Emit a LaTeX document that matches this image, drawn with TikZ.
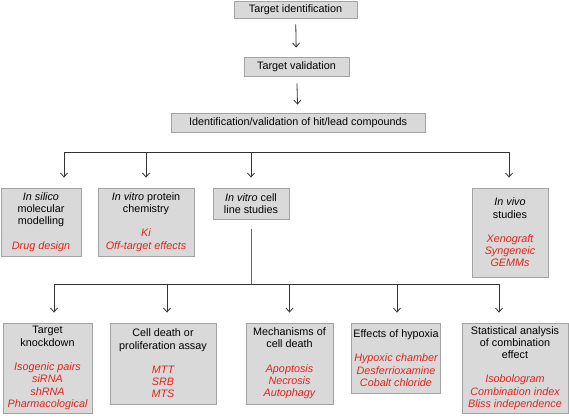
\documentclass[tikz,border=0pt]{standalone}
\usepackage{fontspec}
\setmainfont{Liberation Sans}
\usetikzlibrary{calc,arrows.meta}

\definecolor{boxgray}{HTML}{D9D9D9}
\definecolor{edgegray}{HTML}{A3A3A3}
\definecolor{hitred}{HTML}{E2231A}
\newcommand{\redit}[1]{\textcolor{hitred}{\itshape #1}}

\begin{document}
\begin{tikzpicture}[x=1pt, y=-1pt, font=\fontsize{10.8}{12.3}\selectfont,
    >={Straight Barb[length=4pt,width=7pt]},
    box/.style={rectangle, draw=edgegray, fill=boxgray, line width=0.8pt, align=center, inner sep=2pt},
    link/.style={draw=black!80, line width=0.8pt},
    down/.style={link, ->, shorten >=10pt}]

\useasboundingbox (0,0) rectangle (569,417);

% main line
\node (tid) [box, minimum width=123pt, minimum height=17pt] at (295.5,9.5) {Target identification};
\node (tval) [box, minimum width=105pt, minimum height=19pt] at (296.5,66.5) {Target validation};
\node (hits) [box, minimum width=254pt, minimum height=19pt] at (298,122.5) {Identification/validation of hit/lead compounds};

\draw[link, ->, shorten <=6pt, shorten >=9pt] (tid) -- (tval);
\draw[link, ->, shorten <=7pt, shorten >=8pt] (tval) -- (hits);

% first split
\node (silico) [box, minimum width=80pt, minimum height=68pt] at (41,222) {\textit{In silico}\\molecular\\modelling\\[12pt]\redit{Drug design}};
\node (protein) [box, minimum width=96pt, minimum height=68pt] at (146,222) {\textit{In vitro} protein\\chemistry\\[12pt]\redit{Ki}\\\redit{Off-target effects}};
\node (cellline) [box, minimum width=76pt, minimum height=31pt] at (251,203.5) {\textit{In vitro} cell\\line studies};
\node (vivo) [box, minimum width=76pt, minimum height=89pt] at (510,232.5) {\textit{In vivo}\\studies\\[12pt]\redit{Xenograft}\\\redit{Syngeneic}\\\redit{GEMMs}};

\coordinate (barL) at (64,152);
\coordinate (barR) at (509,152);
\draw[link] (barL) -- (barR);
\draw[down] (barL) -- (barL |- silico.north);
\draw[down] (protein.north |- barL) -- (protein.north);
\draw[down] (cellline.north |- barL) -- (cellline.north);
\draw[down] (barR) -- (barR |- vivo.north);

% cell line studies
\node (knock) [box, minimum width=89pt, minimum height=90pt] at (47.5,368) {Target\\knockdown\\[12pt]\redit{Isogenic pairs}\\\redit{siRNA}\\\redit{shRNA}\\\redit{Pharmacological}};
\node (death) [box, minimum width=106pt, minimum height=81pt] at (163,363.5) {Cell death or\\proliferation assay\\[12pt]\redit{MTT}\\\redit{SRB}\\\redit{MTS}};
\node (mech) [box, minimum width=87pt, minimum height=81pt] at (289.5,363.5) {Mechanisms of\\cell death\\[12pt]\redit{Apoptosis}\\\redit{Necrosis}\\\redit{Autophagy}};
\node (hypoxia) [box, minimum width=88pt, minimum height=70pt] at (396,358) {Effects of hypoxia\\[12pt]\redit{Hypoxic chamber}\\\redit{Desferrioxamine}\\\redit{Cobalt chloride}};
\node (stats) [box, minimum width=106pt, minimum height=90pt] at (515,368) {Statistical analysis\\of combination\\effect\\[12pt]\redit{Isobologram}\\\redit{Combination index}\\\redit{Bliss independence}};

\coordinate (bar2L) at (54,284);
\coordinate (bar2R) at (499,284);
\draw[link, draw=black!60, shorten <=10pt] (cellline.south) -- (cellline.south |- bar2L);
\draw[link] (bar2L) -- (bar2R);
\draw[down] (bar2L) -- (bar2L |- knock.north);
\draw[down] ([xshift=4pt]death.north |- bar2L) -- ([xshift=4pt]death.north);
\draw[down] (mech.north |- bar2L) -- (mech.north);
\draw[down] ([xshift=1pt]hypoxia.north |- bar2L) -- ([xshift=1pt]hypoxia.north);
\draw[down] (bar2R) -- (bar2R |- stats.north);

\end{tikzpicture}
\end{document}
